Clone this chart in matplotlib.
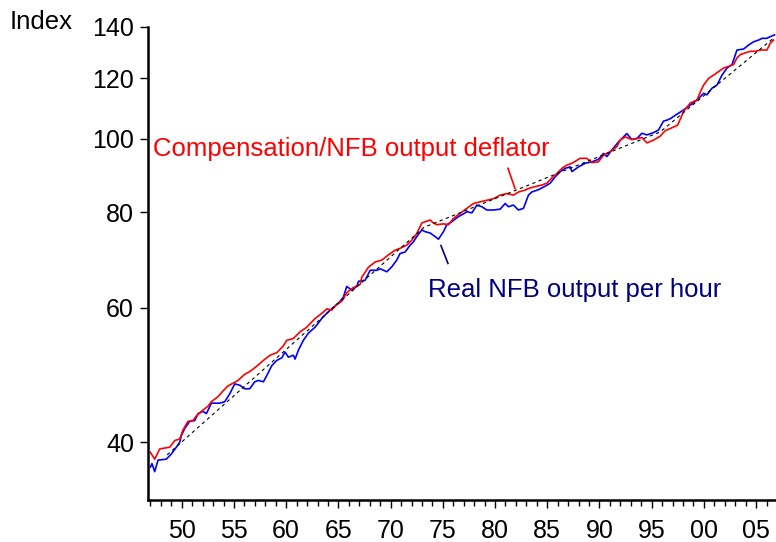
import matplotlib
matplotlib.use("Agg")
import matplotlib.pyplot as plt
from matplotlib.ticker import FixedLocator, FixedFormatter, NullLocator

plt.rcParams["font.family"] = ["Liberation Sans", "DejaVu Sans"]

# Compensation / NFB output deflator (red)
comp_years = [1947.0, 1947.41, 1947.89, 1948.85, 1949.33, 1949.81, 1950.12, 1950.60, 1951.08,
              1951.40, 1951.88, 1952.52, 1952.84, 1953.48, 1953.96, 1954.43, 1954.91, 1955.39,
              1956.03, 1956.51, 1957.18, 1957.82, 1958.46, 1959.10, 1959.73, 1960.06, 1960.69,
              1961.33, 1961.97, 1962.77, 1963.41, 1963.89, 1964.37, 1964.85, 1965.33, 1965.80,
              1966.44, 1967.08, 1967.24, 1967.87, 1968.52, 1969.16, 1969.79, 1970.43, 1970.91,
              1971.55, 1972.03, 1972.51, 1972.99, 1973.30, 1973.78, 1974.10, 1974.43, 1975.06,
              1975.54, 1976.02, 1976.66, 1977.30, 1977.93, 1978.57, 1979.21, 1979.85, 1980.49,
              1981.13, 1981.76, 1982.24, 1982.88, 1983.20, 1983.84, 1984.48, 1984.96, 1985.44,
              1985.92, 1986.40, 1986.88, 1987.36, 1988.15, 1988.79, 1989.27, 1989.90, 1990.38,
              1991.02, 1991.67, 1991.98, 1992.46, 1993.10, 1993.58, 1994.06, 1994.54, 1995.17,
              1995.81, 1996.29, 1996.46, 1997.48, 1998.05, 1998.69, 1999.33, 1999.66, 1999.97,
              2000.45, 2000.93, 2001.41, 2001.88, 2002.36, 2002.84, 2003.16, 2003.48, 2003.96,
              2004.44, 2004.92, 2005.40, 2006.03, 2006.35, 2006.67]
comp_index = [38.8, 38.0, 39.2, 39.4, 40.2, 40.4, 41.5, 42.6, 42.7,
              43.3, 43.9, 44.6, 45.2, 45.9, 46.7, 47.4, 47.8, 48.2,
              49.1, 49.5, 50.3, 51.2, 52.0, 52.4, 53.5, 54.4, 54.7,
              55.8, 56.6, 58.1, 59.0, 59.8, 59.6, 60.7, 61.2, 62.8,
              63.8, 64.4, 65.8, 67.8, 68.9, 69.3, 70.4, 71.4, 71.8,
              72.5, 73.6, 75.1, 77.5, 77.8, 78.2, 77.5, 77.1, 77.3,
              77.1, 78.6, 79.8, 81.0, 82.2, 82.6, 83.0, 83.4, 84.3,
              84.7, 84.3, 85.1, 85.6, 86.0, 86.5, 86.9, 87.4, 88.8,
              90.0, 91.4, 92.3, 92.8, 94.2, 94.2, 93.0, 93.2, 95.1,
              96.1, 97.6, 99.5, 100.5, 99.7, 100.0, 100.3, 98.7, 99.5,
              100.7, 102.4, 102.6, 104.1, 108.5, 111.3, 112.3, 115.1, 117.5,
              119.9, 121.1, 122.4, 123.7, 124.3, 125.0, 127.5, 128.8, 129.5,
              130.1, 130.1, 130.6, 130.6, 133.3, 134.6]

# Real NFB output per hour (blue)
prod_years = [1947.0, 1947.15, 1947.41, 1947.73, 1948.52, 1949.0, 1949.48, 1949.81, 1949.96,
              1950.29, 1950.77, 1951.25, 1951.56, 1952.04, 1952.36, 1952.84, 1953.64, 1954.12,
              1954.60, 1955.08, 1955.56, 1956.03, 1956.51, 1956.99, 1957.34, 1957.82, 1958.14,
              1958.62, 1959.10, 1959.58, 1959.89, 1960.21, 1960.69, 1960.85, 1961.17, 1961.65,
              1962.13, 1962.77, 1963.41, 1964.04, 1964.52, 1965.0, 1965.48, 1965.80, 1966.28,
              1966.76, 1966.92, 1967.56, 1968.04, 1968.68, 1969.0, 1969.64, 1970.11, 1970.59,
              1970.91, 1971.39, 1971.87, 1972.18, 1972.51, 1972.99, 1973.30, 1973.78, 1974.26,
              1974.58, 1975.06, 1975.38, 1975.86, 1976.49, 1977.14, 1977.30, 1977.78, 1978.26,
              1978.74, 1979.21, 1979.85, 1980.49, 1980.97, 1981.28, 1981.76, 1982.24, 1982.72,
              1983.20, 1983.52, 1984.16, 1984.80, 1985.28, 1985.76, 1986.24, 1986.72, 1987.20,
              1987.36, 1987.99, 1988.63, 1989.27, 1989.90, 1990.38, 1990.71, 1991.19, 1991.82,
              1992.62, 1993.10, 1993.58, 1994.06, 1994.54, 1995.17, 1995.65, 1996.13, 1996.46,
              1996.80, 1997.41, 1998.05, 1998.69, 1999.33, 1999.66, 1999.97, 2000.29, 2000.77,
              2001.25, 2001.73, 2002.21, 2002.69, 2003.16, 2003.80, 2004.28, 2004.76, 2005.24,
              2005.56, 2006.03, 2006.35, 2006.76]
prod_index = [37.1, 37.5, 36.6, 37.9, 38.0, 38.6, 39.4, 40.0, 40.8,
              41.7, 42.6, 42.7, 43.6, 43.9, 43.6, 45.0, 45.0, 45.2,
              46.3, 47.7, 47.5, 47.0, 47.0, 48.0, 48.2, 48.0, 48.9,
              50.4, 51.2, 51.6, 52.5, 51.7, 52.0, 51.4, 52.8, 54.4,
              55.6, 56.6, 58.1, 59.3, 60.1, 60.8, 62.0, 64.0, 63.3,
              64.0, 65.0, 65.2, 67.2, 67.2, 67.5, 66.9, 67.9, 69.3,
              70.7, 71.0, 72.5, 73.2, 74.4, 75.9, 75.5, 75.2, 74.4,
              73.8, 75.5, 77.1, 77.8, 79.0, 79.9, 80.2, 79.9, 81.8,
              81.4, 80.6, 80.6, 80.8, 82.2, 81.4, 81.8, 80.6, 81.0,
              84.3, 85.1, 85.7, 86.6, 87.4, 89.1, 90.5, 91.4, 91.8,
              90.5, 91.8, 92.8, 93.2, 93.9, 95.6, 94.7, 96.6, 99.0,
              101.5, 99.7, 100.0, 101.6, 101.1, 101.8, 102.6, 105.4, 105.7,
              106.2, 107.6, 109.0, 110.6, 112.3, 113.5, 114.6, 114.1, 116.4,
              117.5, 121.1, 123.7, 125.0, 130.6, 131.0, 132.6, 133.9, 134.6,
              135.3, 135.3, 136.0, 136.7]

# segmented trend (dashed)
trend_years = [1948.6, 1973.2, 1995.8, 2006.7]
trend_index = [38.5, 76.5, 102.0, 135.5]

xtick_years = [1950, 1955, 1960, 1965, 1970, 1975, 1980, 1985, 1990, 1995, 2000, 2005]
xtick_labels = ["50", "55", "60", "65", "70", "75", "80", "85", "90", "95", "00", "05"]
minor_years = list(range(1947, 2007))
ytick_values = [40, 60, 80, 100, 120, 140]

fig = plt.figure(figsize=(7.76, 5.42), dpi=100)
ax = fig.add_axes([148 / 776, 42 / 542, 628 / 776, 473 / 542])

ax.plot(prod_years, prod_index, color="#0000FF", lw=1.2)
ax.plot(comp_years, comp_index, color="#FF0000", lw=1.2)
ax.plot(trend_years, trend_index, color="black", lw=0.8, ls=(0, (3, 3)))

ax.set_yscale("log")
ax.set_ylim(33.6, 140)
ax.set_xlim(1946.77, 2006.9)

ax.yaxis.set_major_locator(FixedLocator(ytick_values))
ax.yaxis.set_major_formatter(FixedFormatter([str(v) for v in ytick_values]))
ax.yaxis.set_minor_locator(NullLocator())
ax.xaxis.set_major_locator(FixedLocator(xtick_years))
ax.xaxis.set_major_formatter(FixedFormatter(xtick_labels))
ax.xaxis.set_minor_locator(FixedLocator(minor_years))

for s in ["top", "right"]:
    ax.spines[s].set_visible(False)
for s in ["left", "bottom"]:
    ax.spines[s].set_linewidth(1.8)

ax.tick_params(axis="y", which="major", length=6, width=1, labelsize=18, pad=4)
ax.tick_params(axis="x", which="major", length=6, width=1, labelsize=18, pad=8)
ax.tick_params(axis="x", which="minor", length=4, width=1)

# labels and pointers
ax.text(1947.27, 95.0, "Compensation/NFB output deflator", color="#FF0000", fontsize=18.5)
ax.plot([1981.24, 1981.91], [91.4, 86.0], color="#FF0000", lw=1.2)
ax.text(1973.61, 62.0, "Real NFB output per hour", color="#000080", fontsize=18.5)
ax.plot([1974.82, 1975.49], [72.4, 68.6], color="#000080", lw=1.2)

fig.text(10 / 776, 1 - 22 / 542, "Index", fontsize=18.5, va="center", ha="left")

fig.savefig("out.png", dpi=100)
